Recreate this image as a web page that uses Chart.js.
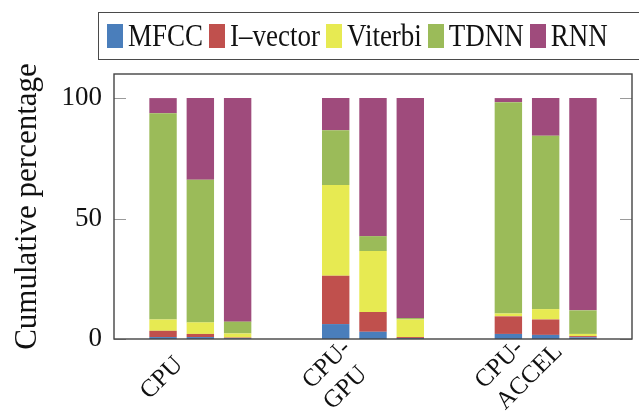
<!DOCTYPE html>
<html>
<head>
<meta charset="utf-8">
<script src="https://cdn.jsdelivr.net/npm/chart.js@4.4.1/dist/chart.umd.min.js"></script>
<style>
  html, body { margin: 0; padding: 0; background: #fff; }
  #wrap { position: relative; width: 639px; height: 414px; overflow: hidden; }
  #legend {
    position: absolute; left: 98px; top: 12px; width: 560px; height: 48px;
    border: 1.3px solid #4a4a4a; box-sizing: border-box;
    display: flex; align-items: center; padding-left: 8px;
    font-family: "Liberation Serif", serif; font-size: 27px; color: #111;
  }
  #legend .item { display: flex; align-items: center; margin-right: 6px; white-space: nowrap; }
  #legend .box { width: 16px; height: 24px; margin-right: 5px; }
  #legend span { display: inline-block; transform: scaleY(1.15); }
</style>
</head>
<body>
<div id="wrap">
  <canvas id="chart" width="639" height="414"></canvas>
  <div id="legend"></div>
</div>
<script>
// categories on the x axis
const categories = ['CPU', ['CPU-', 'GPU'], ['CPU-', 'ACCEL']];
const stages = ['MFCC', 'I\u2013vector', 'Viterbi', 'TDNN', 'RNN'];
const stageColors = ['#4a7ebb', '#c0504d', '#e7ea52', '#9bbb59', '#9f4b7c'];

// percentage of time per stage, [category][bar]
const mfcc    = [[0.8, 0.8, 0.3], [6.2, 3.0, 0.4], [2.1, 1.7, 0.7]];
const ivector = [[2.6, 1.3, 0.3], [20.1, 8.2, 0.4], [7.3, 6.4, 0.5]];
const viterbi = [[4.7, 4.8, 1.7], [37.6, 25.3, 7.3], [1.2, 4.3, 0.9]];
const tdnn    = [[85.6, 59.2, 4.9], [22.7, 6.2, 0.6], [87.7, 72.0, 9.8]];
const rnn     = [[6.3, 33.9, 92.8], [13.4, 57.3, 91.3], [1.7, 15.6, 88.1]];

const yTicks = [0, 50, 100];
const barsPerGroup = 3;

const stageValues = [mfcc, ivector, viterbi, tdnn, rnn];
const datasets = [];
for (let b = 0; b < barsPerGroup; b++) {
  stageValues.forEach((vals, s) => {
    datasets.push({
      label: stages[s],
      data: categories.map((_, c) => vals[c][b]),
      backgroundColor: stageColors[s],
      borderWidth: 0,
      stack: 'bar' + b
    });
  });
}

// html legend
const legend = document.getElementById('legend');
stages.forEach((name, i) => {
  const item = document.createElement('div');
  item.className = 'item';
  item.innerHTML = '<div class="box" style="background:' + stageColors[i] + '"></div><span>' + name + '</span>';
  legend.appendChild(item);
});

const serif = '"Liberation Serif", serif';

// frame round the plot, small inner ticks on y, rotated x labels
const framePlugin = {
  id: 'frame',
  afterDraw(chart) {
    const ctx = chart.ctx;
    const a = chart.chartArea;
    const x = chart.scales.x;
    const y = chart.scales.y;
    ctx.save();
    ctx.strokeStyle = '#9a9a9a';
    ctx.lineWidth = 1;
    yTicks.forEach(v => {
      const py = Math.round(y.getPixelForValue(v)) + 0.5;
      ctx.beginPath();
      ctx.moveTo(a.left, py); ctx.lineTo(a.left + 12, py);
      ctx.moveTo(a.right, py); ctx.lineTo(a.right - 12, py);
      ctx.stroke();
    });
    ctx.strokeStyle = '#444';
    ctx.lineWidth = 1.4;
    ctx.strokeRect(a.left, a.top, a.right - a.left, a.bottom - a.top);

    // x labels: left aligned lines, block centred, rotated 45 deg
    ctx.fillStyle = '#111';
    ctx.font = '25px ' + serif;
    ctx.textAlign = 'left';
    ctx.textBaseline = 'alphabetic';
    const k = Math.SQRT1_2;
    chart.data.labels.forEach((lab, i) => {
      const lines = Array.isArray(lab) ? lab : [lab];
      const cx = x.getPixelForValue(i);
      const bx = cx - 51, by = a.bottom + 61;
      lines.forEach((line, j) => {
        const d = -(lines.length - 1) * 15 + j * 30;
        ctx.save();
        ctx.translate(bx + d * k, by + d * k);
        ctx.rotate(-Math.PI / 4);
        ctx.fillText(line, 0, 0);
        ctx.restore();
      });
    });
    ctx.restore();
  }
};

new Chart(document.getElementById('chart'), {
  type: 'bar',
  data: { labels: categories, datasets: datasets },
  options: {
    responsive: false,
    animation: false,
    layout: { padding: { top: 74, right: 7, left: 0, bottom: 0 } },
    datasets: { bar: { categoryPercentage: 0.648, barPercentage: 0.735 } },
    plugins: { legend: { display: false }, tooltip: { enabled: false } },
    scales: {
      x: {
        stacked: true,
        grid: { display: false, drawTicks: false },
        border: { display: false },
        ticks: { display: false },
        afterFit(scale) { scale.height = 75; }
      },
      y: {
        stacked: true,
        min: 0, max: 110,
        grid: { display: false, drawTicks: false },
        border: { display: false },
        ticks: { color: '#111', font: { family: serif, size: 27 }, padding: 12 },
        afterBuildTicks(scale) { scale.ticks = yTicks.map(v => ({ value: v })); },
        title: {
          display: true, text: 'Cumulative percentage', color: '#111',
          font: { family: serif, size: 31 }, padding: { top: 9, bottom: 0 }
        },
        afterFit(scale) { scale.width = 114; }
      }
    }
  },
  plugins: [framePlugin]
});
</script>
</body>
</html>
